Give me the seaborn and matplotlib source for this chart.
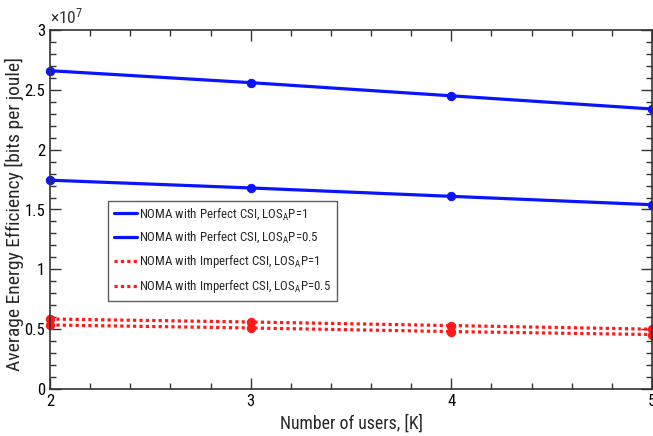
import numpy as np
import pandas as pd
import matplotlib
matplotlib.use("Agg")
import matplotlib.pyplot as plt
from matplotlib.ticker import MultipleLocator, FuncFormatter
from matplotlib.lines import Line2D
import seaborn as sns

users = [2, 3, 4, 5]
perfect_p1 = [2.66e7, 2.56e7, 2.45e7, 2.34e7]
perfect_p05 = [1.745e7, 1.68e7, 1.61e7, 1.54e7]
imperfect_p1 = [0.585e7, 0.56e7, 0.53e7, 0.50e7]
imperfect_p05 = [0.535e7, 0.51e7, 0.48e7, 0.455e7]
labels = [r"NOMA with Perfect CSI, LOS$_{\mathregular{A}}$P=1",
          r"NOMA with Perfect CSI, LOS$_{\mathregular{A}}$P=0.5",
          r"NOMA with Imperfect CSI, LOS$_{\mathregular{A}}$P=1",
          r"NOMA with Imperfect CSI, LOS$_{\mathregular{A}}$P=0.5"]

sns.set_style("ticks")
plt.rcParams["font.family"] = ["Roboto Condensed", "Liberation Sans Narrow", "Open Sans Condensed",
                               "Liberation Sans", "DejaVu Sans"]
plt.rcParams["font.stretch"] = "condensed"
plt.rcParams["mathtext.default"] = "regular"

fig = plt.figure(figsize=(6.53, 4.36), dpi=100)
ax = fig.add_axes([50/653, 47/436, 602/653, 359/436])

series = [perfect_p1, perfect_p05, imperfect_p1, imperfect_p05]
colors = ["#0a14ff", "#0a14ff", "#ff1a1a", "#ff1a1a"]
dashes = [None, None, (1, 1), (1, 1)]
for vals, lab, c, d in zip(series, labels, colors, dashes):
    kw = dict(linestyle=(0, d)) if d else dict(linestyle="-")
    sns.lineplot(x=users, y=vals, ax=ax, color=c, linewidth=2.3,
                 marker="o", markersize=6, markeredgecolor=c, label=lab, clip_on=False, **kw)

ax.set_xlim(2, 5)
ax.set_ylim(0, 3e7)
ax.xaxis.set_major_locator(MultipleLocator(1))
ax.xaxis.set_minor_locator(MultipleLocator(0.2))
ax.yaxis.set_major_locator(MultipleLocator(0.5e7))
ax.yaxis.set_minor_locator(MultipleLocator(0.1e7))
ax.yaxis.set_major_formatter(FuncFormatter(lambda v, p: f"{v/1e7:g}"))
ax.tick_params(which="both", direction="in", top=True, right=True, colors="#333333",
               labelcolor="black", labelsize=12)
ax.tick_params(which="major", length=8, width=1)
ax.tick_params(which="minor", length=4, width=1)
for s in ax.spines.values():
    s.set_color("#333333")
    s.set_linewidth(1.2)

ax.set_xlabel("Number of users, [K]", fontsize=12.8, labelpad=4)
ax.set_ylabel("Average Energy Efficiency [bits per joule]", fontsize=14)
ax.yaxis.set_label_coords(-0.044, 0.488)
ax.text(0.0, 1.01, r"$\times10^{7}$", transform=ax.transAxes, fontsize=12.5,
        ha="left", va="bottom", color="#333333")

hs = [Line2D([], [], color=c, linestyle=(0, d) if d else "-", linewidth=2.3)
      for c, d in zip(colors, dashes)]
leg = ax.legend(hs, labels, loc="upper left", bbox_to_anchor=(0.097, 0.523), fontsize=9.3,
                frameon=True, fancybox=False, edgecolor="#333333", handlelength=1.8,
                handletextpad=0.2, borderpad=0.4, labelspacing=0.62, borderaxespad=0)
leg.get_frame().set_linewidth(1.0)

fig.savefig("out.png", dpi=100)
